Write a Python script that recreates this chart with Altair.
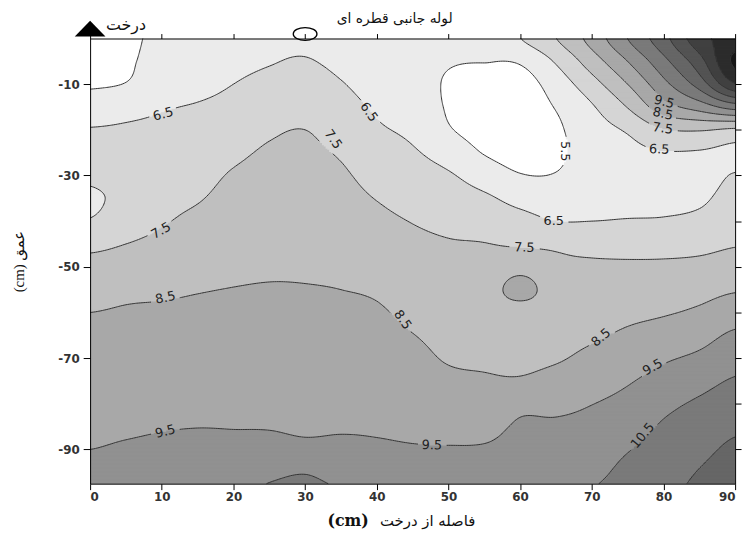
import numpy as np
import pandas as pd
import altair as alt
from collections import defaultdict

alt.data_transformers.disable_max_rows()

# ---------------- data ----------------
distance_cm = [0, 5, 10, 15, 20, 25, 30, 35, 40, 45, 50, 55, 60, 65, 70, 75, 80, 85, 90]
depth_cm = [0, -5, -10, -15, -20, -25, -30, -35, -40, -45, -50,
            -55, -60, -65, -70, -75, -80, -85, -90, -95, -100]

# value at each depth (0 .. -100) for every distance column
v_x00 = [5.0, 5.15, 5.4, 5.95, 6.55, 6.75, 6.66, 6.35, 6.56, 7.3, 7.74, 8.12, 8.5, 8.67, 8.84, 9.0, 9.17, 9.33, 9.5, 9.7, 9.85]
v_x05 = [5.35, 5.38, 5.53, 6.2, 6.6, 6.75, 6.85, 6.78, 7.05, 7.5, 7.87, 8.3, 8.58, 8.74, 8.9, 9.06, 9.22, 9.39, 9.58, 9.75, 9.9]
v_x10 = [5.65, 5.8, 6.0, 6.43, 6.66, 6.84, 7.03, 7.23, 7.42, 7.72, 8.04, 8.37, 8.61, 8.78, 8.95, 9.12, 9.29, 9.46, 9.63, 9.78, 9.92]
v_x15 = [5.85, 5.95, 6.2, 6.57, 6.78, 7.0, 7.22, 7.44, 7.69, 7.95, 8.2, 8.46, 8.65, 8.81, 8.98, 9.15, 9.32, 9.49, 9.65, 9.85, 10.0]
v_x20 = [6.05, 6.25, 6.5, 6.78, 7.06, 7.33, 7.58, 7.77, 7.96, 8.14, 8.33, 8.52, 8.68, 8.84, 9.0, 9.16, 9.32, 9.48, 9.65, 9.9, 10.1]
v_x25 = [6.3, 6.45, 6.73, 7.05, 7.38, 7.6, 7.76, 7.92, 8.08, 8.24, 8.4, 8.55, 8.7, 8.85, 9.0, 9.16, 9.31, 9.46, 9.78, 10.25, 10.75]
v_x30 = [6.35, 6.55, 6.85, 7.16, 7.5, 7.65, 7.8, 7.95, 8.1, 8.24, 8.39, 8.54, 8.69, 8.84, 8.98, 9.13, 9.28, 9.38, 9.72, 10.45, 10.85]
v_x35 = [6.1, 6.3, 6.55, 6.83, 7.12, 7.41, 7.62, 7.79, 7.97, 8.15, 8.32, 8.5, 8.65, 8.8, 8.96, 9.11, 9.27, 9.42, 9.7, 10.1, 10.6]
v_x40 = [5.9, 6.0, 6.15, 6.38, 6.62, 6.9, 7.19, 7.47, 7.71, 7.94, 8.17, 8.4, 8.59, 8.75, 8.92, 9.08, 9.25, 9.41, 9.62, 9.95, 10.35]
v_x45 = [5.75, 5.75, 5.85, 6.05, 6.3, 6.6, 6.89, 7.18, 7.47, 7.69, 7.9, 8.1, 8.31, 8.52, 8.73, 8.93, 9.14, 9.35, 9.56, 9.85, 10.2]
v_x50 = [5.65, 5.55, 5.42, 5.42, 5.58, 6.1, 6.6, 6.95, 7.29, 7.56, 7.74, 7.91, 8.09, 8.26, 8.43, 8.68, 8.97, 9.26, 9.55, 9.8, 10.1]
v_x55 = [5.75, 5.52, 5.2, 5.05, 5.15, 5.45, 6.05, 6.66, 7.09, 7.52, 7.68, 7.86, 8.03, 8.2, 8.38, 8.59, 8.92, 9.25, 9.58, 9.85, 10.1]
v_x60 = [6.48, 5.6, 5.1, 5.0, 5.02, 5.15, 5.55, 6.2, 6.83, 7.4, 8.1, 8.95, 7.95, 8.15, 8.35, 8.58, 9.28, 9.6, 9.75, 9.9, 10.05]
v_x65 = [7.48, 6.6, 5.95, 5.55, 5.35, 5.3, 5.55, 6.0, 6.5, 7.35, 7.66, 7.85, 8.04, 8.23, 8.42, 8.78, 9.25, 9.65, 9.85, 10.05, 10.25]
v_x70 = [8.85, 8.0, 7.11, 6.4, 6.1, 6.0, 6.05, 6.25, 6.5, 7.21, 7.64, 7.88, 8.13, 8.38, 8.71, 9.1, 9.48, 9.8, 10.0, 10.25, 10.55]
v_x75 = [10.5, 9.5, 8.5, 7.54, 6.61, 6.25, 6.15, 6.25, 6.55, 7.16, 7.64, 7.97, 8.29, 8.64, 9.03, 9.42, 9.77, 10.1, 10.45, 10.75, 11.0]
v_x80 = [12.15, 11.2, 10.2, 9.08, 7.44, 6.45, 6.2, 6.25, 6.58, 7.16, 7.66, 8.04, 8.42, 8.89, 9.38, 9.83, 10.27, 10.6, 10.85, 11.05, 11.25]
v_x85 = [14.1, 13.1, 11.91, 9.92, 7.58, 6.42, 6.2, 6.35, 6.73, 7.24, 7.73, 8.18, 8.65, 9.16, 9.68, 10.2, 10.63, 10.93, 11.23, 11.55, 11.8]
v_x90 = [14.95, 15.7, 14.4, 10.92, 7.34, 6.25, 6.55, 6.83, 7.13, 7.44, 7.91, 8.42, 9.05, 9.65, 10.15, 10.58, 10.95, 11.33, 11.7, 12.05, 12.4]

levels = [5.5, 6.5, 7.5, 8.5, 9.5, 10.5, 11.5, 12.5, 13.5, 14.5, 15.5]
band_colors = ["#ffffff", "#ebebeb", "#d5d5d5", "#bfbfbf", "#a8a8a8", "#919191",
               "#7a7a7a", "#666666", "#535353", "#404040", "#2c2c2c", "#171717"]

# contour labels
label_text = ["6.5", "6.5", "7.5", "7.5", "6.5", "7.5", "5.5", "9.5", "8.5", "7.5", "6.5",
              "8.5", "9.5", "8.5", "8.5", "9.5", "9.5", "10.5"]
label_x = [10.2, 38.9, 33.9, 9.9, 64.7, 60.6, 66.3, 80.1, 79.9, 79.9, 79.4,
           10.5, 10.5, 43.6, 71.3, 47.7, 78.5, 77.1]
label_y = [-16.6, -16.1, -22.1, -42.1, -39.9, -45.8, -24.7, -13.9, -16.5, -19.7, -24.3,
           -56.8, -86.1, -61.6, -65.5, -89.1, -72.0, -87.0]
label_angle = [345, 55, 55, 330, 0, 2, 90, 15, 12, 8, 3,
               348, 345, 55, 320, 2, 330, 310]

# annotations and titles outside the plot (data units)
marker_x = [0, 30]
marker_y = [2.17, 1.0]
note_text = ["درخت", "لوله جانبی قطره ای", "فاصله  از درخت"]
note_x = [5.0, 42.5, 47.1]
note_y = [3.0, 4.3, -105.7]
note_size = [16, 14, 15]
unit_text = ["(cm)"]
unit_x = [36.0]
unit_y = [-105.7]

X_DOMAIN = [0, 90]
Y_DOMAIN = [-97.5, 0]
W, H = 652, 450
PX = W / 90.0
PY = H / 97.5

# ---------------- smooth field on a fine grid ----------------
G = np.array([v_x00, v_x05, v_x10, v_x15, v_x20, v_x25, v_x30, v_x35, v_x40, v_x45,
              v_x50, v_x55, v_x60, v_x65, v_x70, v_x75, v_x80, v_x85, v_x90], float).T


def cr_matrix(nodes, targets):
    nodes = np.asarray(nodes, float)
    h = nodes[1] - nodes[0]
    n = len(nodes)
    M = np.zeros((len(targets), n))
    for r, t in enumerate(targets):
        s = (t - nodes[0]) / h
        k = int(np.floor(s))
        k = min(max(k, 0), n - 2)
        u = s - k
        w = [(-u**3 + 2*u**2 - u) / 2, (3*u**3 - 5*u**2 + 2) / 2,
             (-3*u**3 + 4*u**2 + u) / 2, (u**3 - u**2) / 2]
        for off, wi in zip((-1, 0, 1, 2), w):
            idx = min(max(k + off, 0), n - 1)
            M[r, idx] += wi
    return M


fx = np.linspace(0, 90, 361)
fy = np.linspace(0, -97.5, 391)
Z = cr_matrix(depth_cm, fy) @ G @ cr_matrix(distance_cm, fx).T

# ---------------- filled bands (row runs, overlapping rows to avoid seams) ----------------
band = np.digitize(Z, levels)
hx = (fx[1] - fx[0]) / 2
hy = abs(fy[1] - fy[0]) / 2
rects = []
for i, yv in enumerate(fy):
    row = band[i]
    start = 0
    for j in range(1, len(fx) + 1):
        if j == len(fx) or row[j] != row[start]:
            rects.append({
                "x0": round(max(fx[start] - hx, 0.0), 3),
                "x1": round(min(fx[j - 1] + hx, 90.0), 3),
                "y0": round(min(yv + hy, 0.0), 3),
                "y1": round(max(yv - hy - 0.35, -97.5), 3),
                "band": int(row[start]),
            })
            start = j
fill_df = pd.DataFrame(rects)

# ---------------- contour lines (marching squares) ----------------


def contour_paths(level):
    B = Z > level
    case = (B[:-1, :-1] * 8 + B[:-1, 1:] * 4 + B[1:, 1:] * 2 + B[1:, :-1] * 1)
    ii, jj = np.nonzero((case > 0) & (case < 15))
    segs = []
    for i, j in zip(ii.tolist(), jj.tolist()):
        c = int(case[i, j])
        T = ("h", i, j); Bo = ("h", i + 1, j); L = ("v", i, j); R = ("v", i, j + 1)
        if c in (1, 14):
            segs.append((L, Bo))
        elif c in (2, 13):
            segs.append((Bo, R))
        elif c in (3, 12):
            segs.append((L, R))
        elif c in (4, 11):
            segs.append((T, R))
        elif c in (6, 9):
            segs.append((T, Bo))
        elif c in (7, 8):
            segs.append((T, L))
        else:
            center = (Z[i, j] + Z[i, j + 1] + Z[i + 1, j] + Z[i + 1, j + 1]) / 4 > level
            if (c == 5) == bool(center):
                segs += [(T, L), (Bo, R)]
            else:
                segs += [(T, R), (L, Bo)]
    adj = defaultdict(list)
    for s, (a, b) in enumerate(segs):
        adj[a].append(s)
        adj[b].append(s)
    used = [False] * len(segs)

    def walk(key, s):
        path = [key]
        cur = key
        while s is not None:
            used[s] = True
            a, b = segs[s]
            cur = b if a == cur else a
            path.append(cur)
            s = next((t for t in adj[cur] if not used[t]), None)
        return path

    paths = []
    for key, lst in list(adj.items()):
        if len(lst) == 1 and not used[lst[0]]:
            paths.append(walk(key, lst[0]))
    for s in range(len(segs)):
        if not used[s]:
            paths.append(walk(segs[s][0], s))

    def pt(key):
        kind, i, j = key
        if kind == "h":
            z0, z1 = Z[i, j], Z[i, j + 1]
            t = (level - z0) / (z1 - z0)
            return fx[j] + t * (fx[j + 1] - fx[j]), fy[i]
        z0, z1 = Z[i, j], Z[i + 1, j]
        t = (level - z0) / (z1 - z0)
        return fx[j], fy[i] + t * (fy[i + 1] - fy[i])

    return [[pt(k) for k in p] for p in paths]


line_rows = []
lid = 0
for level in levels:
    gaps = []
    for t, lx, ly in zip(label_text, label_x, label_y):
        if abs(float(t) - level) < 1e-9:
            gaps.append((lx, ly, 14.0 if len(t) == 3 else 18.0))
    for pts in contour_paths(level):
        piece = []
        pieces = []
        for (x, y) in pts:
            hidden = any(((x - gx) * PX) ** 2 + ((y - gy) * PY) ** 2 < r * r for gx, gy, r in gaps)
            if hidden:
                if len(piece) > 1:
                    pieces.append(piece)
                piece = []
            else:
                piece.append((x, y))
        if len(piece) > 1:
            pieces.append(piece)
        for pc in pieces:
            for k, (x, y) in enumerate(pc):
                line_rows.append({"x": round(float(x), 3), "y": round(float(y), 3), "lid": lid, "ord": k})
            lid += 1
lines_df = pd.DataFrame(line_rows)

labels_df = pd.DataFrame({"x": label_x, "y": label_y, "text": label_text, "angle": label_angle})
tri_df = pd.DataFrame({"x": marker_x[:1], "y": marker_y[:1]})
ell_df = pd.DataFrame({"x": marker_x[1:], "y": marker_y[1:]})
notes_df = pd.DataFrame({"x": note_x, "y": note_y, "text": note_text, "fs": note_size})
unit_df = pd.DataFrame({"x": unit_x, "y": unit_y, "text": unit_text})

# ---------------- chart ----------------
xs = alt.Scale(domain=X_DOMAIN, nice=False, zero=False)
ys = alt.Scale(domain=Y_DOMAIN, nice=False, zero=False)

LBL = dict(labelFont="DejaVu Sans", labelFontWeight="bold", labelFontSize=12,
           labelColor="#333333", tickColor="#000000", domainColor="#000000",
           domainWidth=1, tickWidth=1, grid=False, zindex=1)

bottom_axis = alt.Axis(orient="bottom", values=list(range(0, 91, 10)), tickSize=6, labelPadding=2,
                       title="", **LBL)
left_axis = alt.Axis(orient="left", values=[-10, -30, -50, -70, -90], tickSize=7, labelPadding=4,
                     labelExpr="'' + datum.value",
                     title="(cm) عمق", titleFont="Liberation Serif, DejaVu Sans",
                     titleFontSize=15, titleFontWeight="normal", titleColor="#111111",
                     titleAngle=270, titleX=-72, titleY=225, titleBaseline="middle",
                     titleAlign="center", **LBL)
top_axis = alt.Axis(orient="top", values=list(range(0, 91, 10)), tickSize=5, labels=False,
                    title="", **LBL)
right_axis = alt.Axis(orient="right", values=list(range(-10, -91, -10)), tickSize=6, labels=False,
                      title="", **LBL)

fill = alt.Chart(fill_df).mark_rect(strokeWidth=0).encode(
    x=alt.X("x0:Q", scale=xs, axis=bottom_axis),
    x2="x1:Q",
    y=alt.Y("y0:Q", scale=ys, axis=left_axis),
    y2="y1:Q",
    color=alt.Color("band:O", scale=alt.Scale(domain=list(range(12)), range=band_colors), legend=None),
)

lines = alt.Chart(lines_df).mark_line(color="#333333", strokeWidth=1).encode(
    x=alt.X("x:Q", scale=xs, axis=None),
    y=alt.Y("y:Q", scale=ys, axis=None),
    detail="lid:N",
    order="ord:Q",
)

labels = alt.Chart(labels_df).mark_text(font="DejaVu Sans", fontSize=13, color="#222222",
                                        align="center", baseline="middle").encode(
    x=alt.X("x:Q", scale=xs, axis=None),
    y=alt.Y("y:Q", scale=ys, axis=None),
    text="text:N",
    angle=alt.Angle("angle:Q", scale=None),
)

tri = alt.Chart(tri_df).mark_point(shape="M-1,0.52L1,0.52L0,-0.52Z", size=961, filled=True,
                                   color="#000000", opacity=1, clip=False).encode(
    x=alt.X("x:Q", scale=xs, axis=top_axis),
    y=alt.Y("y:Q", scale=ys, axis=right_axis),
)

ell = alt.Chart(ell_df).mark_point(shape="M-1,0A1,0.54,0,1,1,1,0A1,0.54,0,1,1,-1,0Z", size=576,
                                   filled=False, fill="#ffffff", stroke="#000000", strokeWidth=1.3,
                                   opacity=1, clip=False).encode(
    x=alt.X("x:Q", scale=xs, axis=None),
    y=alt.Y("y:Q", scale=ys, axis=None),
)

notes = alt.Chart(notes_df).mark_text(font="DejaVu Sans", color="#111111",
                                      align="center", baseline="middle", clip=False).encode(
    x=alt.X("x:Q", scale=xs, axis=None),
    y=alt.Y("y:Q", scale=ys, axis=None),
    text="text:N",
    size=alt.Size("fs:Q", scale=None, legend=None),
)

unit = alt.Chart(unit_df).mark_text(font="DejaVu Serif", fontWeight="bold", fontSize=16,
                                    color="#111111", align="center", baseline="middle",
                                    clip=False).encode(
    x=alt.X("x:Q", scale=xs, axis=None),
    y=alt.Y("y:Q", scale=ys, axis=None),
    text="text:N",
)

chart = alt.layer(fill, lines, labels, ell, tri, notes, unit).resolve_axis(
    x="independent", y="independent"
).properties(
    width=W, height=H,
    padding={"left": 83, "top": 28, "right": 10, "bottom": 47},
    autosize=alt.AutoSizeParams(type="none"),
    background="#ffffff",
).configure_view(strokeWidth=0)

chart.save("out.html", embed_options={"renderer": "svg", "actions": False})
